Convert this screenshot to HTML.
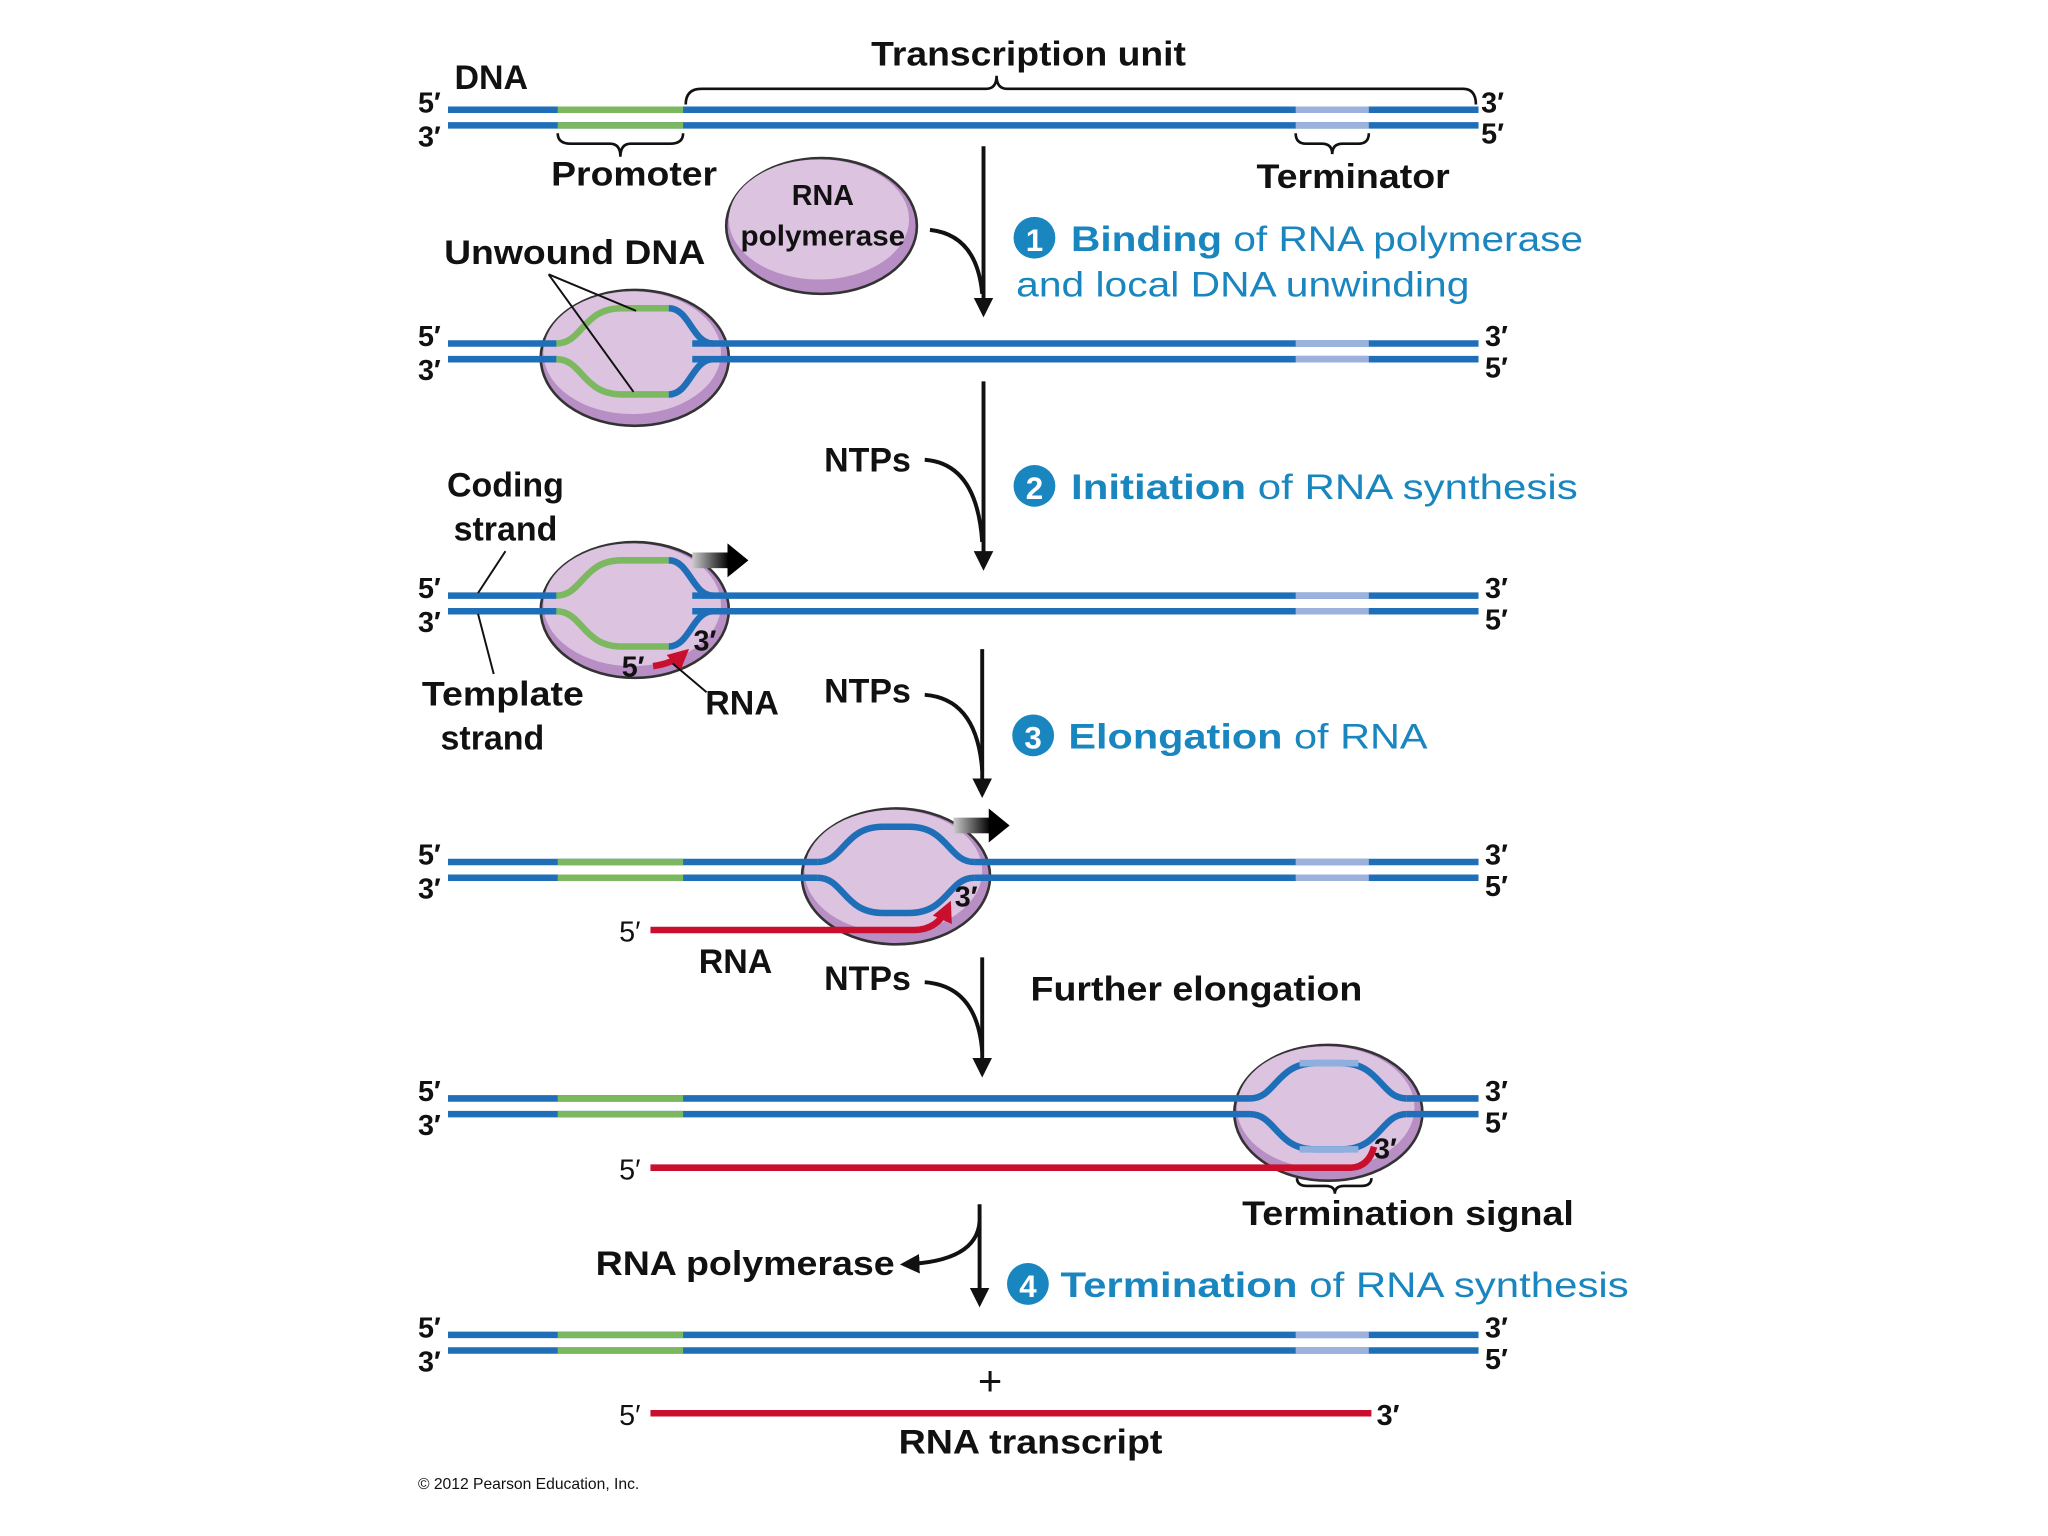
<!DOCTYPE html>
<html><head><meta charset="utf-8"><style>
html,body{margin:0;padding:0;background:#fff}
svg{display:block}
text{font-family:"Liberation Sans",Arial,sans-serif;font-weight:bold;fill:#111}
.l{font-size:22px}
.big{font-size:26px}
.s{font-size:27px;fill:#1a86c0}
.sn{font-weight:normal}
</style></head><body>
<svg width="2048" height="1536" viewBox="0 0 1568 1176" xmlns="http://www.w3.org/2000/svg">
<defs>
<marker id="ah" viewBox="0 0 10 10" refX="8" refY="5" markerWidth="5" markerHeight="5" orient="auto"><path d="M0,0 L10,5 L0,10 z" fill="#111"/></marker>
<marker id="rh" viewBox="0 0 10 10" refX="7" refY="5" markerWidth="3.2" markerHeight="3.2" orient="auto"><path d="M0,0 L10,5 L0,10 z" fill="#c8102e"/></marker>
<linearGradient id="gr" x1="0" x2="1"><stop offset="0" stop-color="#ccc"/><stop offset="1" stop-color="#000"/></linearGradient>
</defs>
<g fill="none" stroke-width="5">
<path d="M343 84H1132M343 96H1132" stroke="#1f6fb8"/>
<path d="M427 84H523M427 96H523" stroke="#7cb860"/>
<path d="M992 84H1048M992 96H1048" stroke="#9cb2dc"/>
</g>
<g fill="none" stroke="#111" stroke-width="2">
<path d="M525 80 Q525 68 537 68 L755 68 Q763 68 763 58 Q763 68 771 68 L1120 68 Q1130 68 1130 80"/>
<path d="M427 102 Q427 110 437 110 L467 110 Q475 110 475 120 Q475 110 483 110 L513 110 Q523 110 523 102"/>
<path d="M992 102 Q992 110 1000 110 L1012 110 Q1020 110 1020 118 Q1020 110 1028 110 L1040 110 Q1048 110 1048 102"/>
</g>
<text x="667" y="50" class="big" textLength="241" lengthAdjust="spacingAndGlyphs">Transcription unit</text>
<text x="348" y="68" class="big">DNA</text>
<text x="422" y="142" class="big" textLength="127" lengthAdjust="spacingAndGlyphs">Promoter</text>
<text x="962" y="144" class="big" textLength="148" lengthAdjust="spacingAndGlyphs">Terminator</text>
<text x="320" y="86" class="l">5′</text><text x="320" y="112" class="l">3′</text>
<text x="1134" y="86" class="l">3′</text><text x="1134" y="110" class="l">5′</text>
<ellipse cx="629" cy="173" rx="73" ry="52" fill="#b88fc4" stroke="#333" stroke-width="2"/>
<ellipse cx="627" cy="168" rx="69" ry="46" fill="#dcc3e0"/>
<text x="630" y="157" class="l" text-anchor="middle">RNA</text>
<text x="630" y="188" class="l" text-anchor="middle" textLength="126" lengthAdjust="spacingAndGlyphs">polymerase</text>
<path d="M753 112V240" stroke="#111" stroke-width="3" marker-end="url(#ah)"/>
<path d="M712 176 Q748 180 752 225" stroke="#111" stroke-width="3" fill="none"/>
<circle cx="792" cy="182" r="16" fill="#1a86c0"/><text x="792" y="192" text-anchor="middle" style="fill:#fff;font-size:24px">1</text>
<text x="820" y="192" class="s" textLength="392" lengthAdjust="spacingAndGlyphs">Binding <tspan class="sn" style="fill:#1a86c0">of RNA polymerase</tspan></text>
<text x="778" y="227" class="s" style="font-weight:normal" textLength="347" lengthAdjust="spacingAndGlyphs">and local DNA unwinding</text>

<ellipse cx="486" cy="274" rx="72" ry="52" fill="#b88fc4" stroke="#333" stroke-width="2"/>
<ellipse cx="484" cy="270" rx="68" ry="47" fill="#dcc3e0"/>
<g fill="none" stroke-width="5">
<path d="M343 263H426M343 275H426M530 263H1132M530 275H1132" stroke="#1f6fb8"/>
<path d="M992 263H1048M992 275H1048" stroke="#9cb2dc"/>
<path d="M426 263 C446 263 446 236 476 236 L512 236" stroke="#7cb860"/>
<path d="M426 275 C446 275 446 302 476 302 L512 302" stroke="#7cb860"/>
<path d="M512 236 C528 236 530 263 546 263" stroke="#1f6fb8"/>
<path d="M512 302 C528 302 530 275 546 275" stroke="#1f6fb8"/>
</g>
<path d="M420 210 L487 238 M420 210 L485 300" stroke="#111" stroke-width="1.5" fill="none"/>
<text x="340" y="202" class="big" textLength="200" lengthAdjust="spacingAndGlyphs">Unwound DNA</text>
<text x="320" y="265" class="l">5′</text><text x="320" y="291" class="l">3′</text>
<text x="1137" y="265" class="l">3′</text><text x="1137" y="289" class="l">5′</text>

<path d="M753 292V434" stroke="#111" stroke-width="3" marker-end="url(#ah)"/>
<path d="M708 352 Q748 355 752 415" stroke="#111" stroke-width="3" fill="none"/>
<text x="631" y="361" class="big">NTPs</text>
<circle cx="792" cy="372" r="16" fill="#1a86c0"/><text x="792" y="382" text-anchor="middle" style="fill:#fff;font-size:24px">2</text>
<text x="820" y="382" class="s" textLength="388" lengthAdjust="spacingAndGlyphs">Initiation <tspan class="sn" style="fill:#1a86c0">of RNA synthesis</tspan></text>

<ellipse cx="486" cy="467" rx="72" ry="52" fill="#b88fc4" stroke="#333" stroke-width="2"/>
<ellipse cx="484" cy="463" rx="68" ry="47" fill="#dcc3e0"/>
<g fill="none" stroke-width="5">
<path d="M343 456H426M343 468H426M530 456H1132M530 468H1132" stroke="#1f6fb8"/>
<path d="M992 456H1048M992 468H1048" stroke="#9cb2dc"/>
<path d="M426 456 C446 456 446 429 476 429 L512 429" stroke="#7cb860"/>
<path d="M426 468 C446 468 446 495 476 495 L512 495" stroke="#7cb860"/>
<path d="M512 429 C528 429 530 456 546 456" stroke="#1f6fb8"/>
<path d="M512 495 C528 495 530 468 546 468" stroke="#1f6fb8"/>
<path d="M500 510 Q515 508 524 500" stroke="#c8102e" stroke-width="5" marker-end="url(#rh)"/>
</g>
<rect x="530" y="423" width="28" height="12" fill="url(#gr)"/><path d="M557 416 L573 429 L557 442z" fill="#000"/>
<text x="476" y="518" class="l">5′</text><text x="531" y="498" class="l">3′</text>
<path d="M515 508 L541 530" stroke="#111" stroke-width="1.5"/>
<text x="540" y="547" class="big">RNA</text>
<text x="387" y="380" class="big" text-anchor="middle">Coding</text>
<text x="387" y="414" class="big" text-anchor="middle">strand</text>
<text x="385" y="540" class="big" text-anchor="middle" textLength="124" lengthAdjust="spacingAndGlyphs">Template</text>
<text x="377" y="574" class="big" text-anchor="middle">strand</text>
<path d="M387 422 L366 454 M366 470 L378 516" stroke="#111" stroke-width="1.5" fill="none"/>
<text x="320" y="458" class="l">5′</text><text x="320" y="484" class="l">3′</text>
<text x="1137" y="458" class="l">3′</text><text x="1137" y="482" class="l">5′</text>

<path d="M752 497V608" stroke="#111" stroke-width="3" marker-end="url(#ah)"/>
<path d="M708 532 Q748 535 752 590" stroke="#111" stroke-width="3" fill="none"/>
<text x="631" y="538" class="big">NTPs</text>
<circle cx="791" cy="563" r="16" fill="#1a86c0"/><text x="791" y="573" text-anchor="middle" style="fill:#fff;font-size:24px">3</text>
<text x="818" y="573" class="s" textLength="275" lengthAdjust="spacingAndGlyphs">Elongation <tspan class="sn" style="fill:#1a86c0">of RNA</tspan></text>

<ellipse cx="686" cy="671" rx="72" ry="52" fill="#b88fc4" stroke="#333" stroke-width="2"/>
<ellipse cx="684" cy="667" rx="68" ry="47" fill="#dcc3e0"/>
<g fill="none" stroke-width="5">
<path d="M343 660H626M343 672H626M746 660H1132M746 672H1132" stroke="#1f6fb8"/>
<path d="M427 660H523M427 672H523" stroke="#7cb860"/>
<path d="M992 660H1048M992 672H1048" stroke="#9cb2dc"/>
<path d="M626 660 C646 660 646 633 676 633 L696 633 C726 633 726 660 746 660" stroke="#1f6fb8"/>
<path d="M626 672 C646 672 646 699 676 699 L696 699 C726 699 726 672 746 672" stroke="#1f6fb8"/>
<path d="M498 712 H700 Q718 712 726 694" stroke="#c8102e" marker-end="url(#rh)"/>
</g>
<rect x="730" y="626" width="28" height="12" fill="url(#gr)"/><path d="M757 619 L773 632 L757 645z" fill="#000"/>
<text x="474" y="721" class="l" style="font-weight:normal">5′</text><text x="731" y="694" class="l">3′</text>
<text x="535" y="745" class="big">RNA</text>
<text x="320" y="662" class="l">5′</text><text x="320" y="688" class="l">3′</text>
<text x="1137" y="662" class="l">3′</text><text x="1137" y="686" class="l">5′</text>

<path d="M752 733V822" stroke="#111" stroke-width="3" marker-end="url(#ah)"/>
<path d="M708 752 Q748 755 752 805" stroke="#111" stroke-width="3" fill="none"/>
<text x="631" y="758" class="big">NTPs</text>
<text x="789" y="766" class="big" textLength="254" lengthAdjust="spacingAndGlyphs">Further elongation</text>

<ellipse cx="1017" cy="852" rx="72" ry="52" fill="#b88fc4" stroke="#333" stroke-width="2"/>
<ellipse cx="1015" cy="848" rx="68" ry="47" fill="#dcc3e0"/>
<g fill="none" stroke-width="5">
<path d="M343 841H957M343 853H957M1077 841H1132M1077 853H1132" stroke="#1f6fb8"/>
<path d="M427 841H523M427 853H523" stroke="#7cb860"/>
<path d="M957 841 C977 841 977 814 1007 814 L1027 814 C1057 814 1057 841 1077 841" stroke="#1f6fb8"/>
<path d="M957 853 C977 853 977 880 1007 880 L1027 880 C1057 880 1057 853 1077 853" stroke="#1f6fb8"/>
<path d="M995 814 L1040 814 M995 880 L1040 880" stroke="#8fb0df"/>
<path d="M498 894 H1035 Q1048 893 1052 878" stroke="#c8102e"/>
</g>
<text x="474" y="903" class="l" style="font-weight:normal">5′</text><text x="1052" y="887" class="l">3′</text>
<path d="M993 902 Q993 908 1001 908 L1015 908 Q1022 908 1022 914 Q1022 908 1029 908 L1042 908 Q1050 908 1050 902" stroke="#111" stroke-width="2" fill="none"/>
<text x="951" y="938" class="big" textLength="254" lengthAdjust="spacingAndGlyphs">Termination signal</text>
<text x="320" y="843" class="l">5′</text><text x="320" y="869" class="l">3′</text>
<text x="1137" y="843" class="l">3′</text><text x="1137" y="867" class="l">5′</text>

<path d="M750 922V998" stroke="#111" stroke-width="3" marker-end="url(#ah)"/>
<path d="M750 935 Q748 966 692 968" stroke="#111" stroke-width="3" fill="none" marker-end="url(#ah)"/>
<text x="456" y="976" class="big" textLength="229" lengthAdjust="spacingAndGlyphs">RNA polymerase</text>
<circle cx="787" cy="983" r="16" fill="#1a86c0"/><text x="787" y="993" text-anchor="middle" style="fill:#fff;font-size:24px">4</text>
<text x="812" y="993" class="s" textLength="435" lengthAdjust="spacingAndGlyphs">Termination <tspan class="sn" style="fill:#1a86c0">of RNA synthesis</tspan></text>

<g fill="none" stroke-width="5">
<path d="M343 1022H1132M343 1034H1132" stroke="#1f6fb8"/>
<path d="M427 1022H523M427 1034H523" stroke="#7cb860"/>
<path d="M992 1022H1048M992 1034H1048" stroke="#9cb2dc"/>
<path d="M498 1082H1050" stroke="#c8102e"/>
</g>
<text x="320" y="1024" class="l">5′</text><text x="320" y="1050" class="l">3′</text>
<text x="1137" y="1024" class="l">3′</text><text x="1137" y="1048" class="l">5′</text>
<text x="758" y="1068" text-anchor="middle" style="font-size:32px;font-weight:normal">+</text>
<text x="474" y="1091" class="l" style="font-weight:normal">5′</text><text x="1054" y="1091" class="l">3′</text>
<text x="688" y="1113" class="big" textLength="202" lengthAdjust="spacingAndGlyphs">RNA transcript</text>
<text x="320" y="1140" style="font-size:12px;font-weight:normal">© 2012 Pearson Education, Inc.</text>
</svg>
</body></html>
